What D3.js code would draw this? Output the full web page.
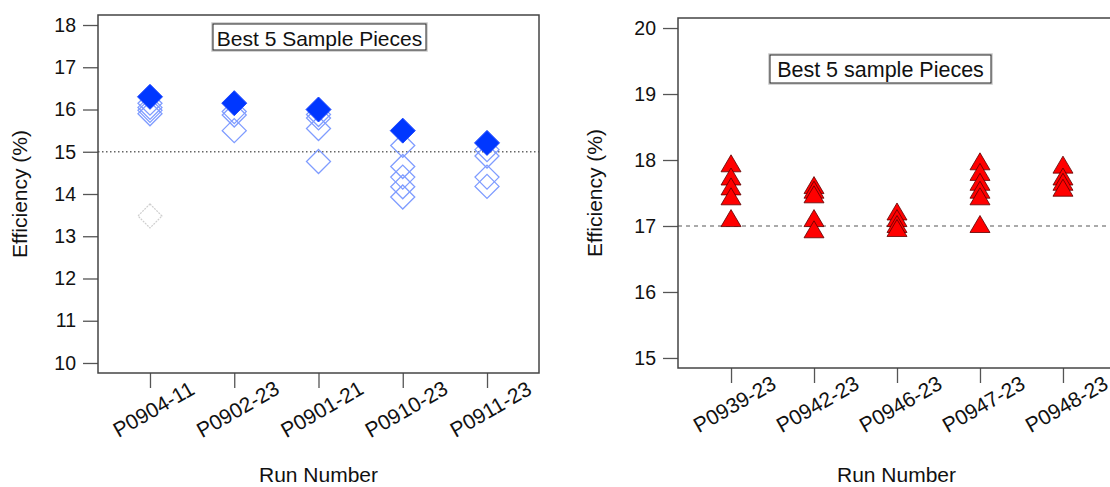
<!DOCTYPE html>
<meta charset="utf-8">
<style>
body { margin: 0; background: #fff; }
svg { display: block; font-family: "Liberation Sans", Arial, sans-serif; }
</style>
<svg width="1110" height="487"></svg>
<script src="https://d3js.org/d3.v7.min.js"></script>
<script>
// left panel data
const leftRuns = ["P0904-11", "P0902-23", "P0901-21", "P0910-23", "P0911-23"];
const leftBest = [16.3, 16.15, 16.0, 15.5, 15.21];
const leftOthers = [
	[16.15, 16.05, 15.98, 15.9],
	[15.95, 15.87, 15.5],
	[15.88, 15.8, 15.55, 14.77],
	[15.15, 14.65, 14.4, 14.17, 13.93],
	[15.05, 14.9, 14.4, 14.18]
];
const leftFaint = [13.48, null, null, null, null];
const leftTicks = [10, 11, 12, 13, 14, 15, 16, 17, 18];
const leftRef = 15;

// right panel data
const rightRuns = ["P0939-23", "P0942-23", "P0946-23", "P0947-23", "P0948-23"];
const rightValues = [
	[17.95, 17.75, 17.6, 17.45, 17.12],
	[17.62, 17.55, 17.48, 17.12, 16.95],
	[17.22, 17.12, 17.03, 16.97],
	[17.98, 17.82, 17.67, 17.55, 17.45, 17.03],
	[17.93, 17.75, 17.67, 17.58]
];
const rightTicks = [15, 16, 17, 18, 19, 20];
const rightRef = 17;

const svg = d3.select("svg");

function panel(opt) {
	const g = svg.append("g");
	const x = d3.scalePoint().domain(opt.runs).range([opt.left, opt.right]).padding(opt.pad);
	const y = d3.scaleLinear().domain(opt.ydomain).range([opt.bottom, opt.top]);

	// reference line
	g.append("line")
		.attr("x1", opt.left).attr("x2", opt.right)
		.attr("y1", y(opt.ref)).attr("y2", y(opt.ref))
		.attr("stroke", opt.refColor)
		.attr("stroke-width", opt.refWidth)
		.attr("stroke-dasharray", opt.refDash);

	const yAxis = g.append("g")
		.attr("transform", `translate(${opt.left},0)`)
		.call(d3.axisLeft(y).tickValues(opt.yticks).tickSize(15).tickPadding(7).tickFormat(d3.format("d")));
	const xAxis = g.append("g")
		.attr("transform", `translate(0,${opt.bottom})`)
		.call(d3.axisBottom(x).tickSize(15));
	[yAxis, xAxis].forEach(a => {
		a.select(".domain").remove();
		a.selectAll(".tick line").attr("stroke", "#555").attr("stroke-width", 1.3);
	});
	yAxis.selectAll(".tick text")
		.attr("font-size", 19.5).attr("fill", "#111")
		.attr("font-family", "Liberation Sans, Arial, sans-serif");
	xAxis.selectAll(".tick text")
		.attr("font-size", 21).attr("fill", "#111")
		.attr("font-family", "Liberation Sans, Arial, sans-serif")
		.attr("text-anchor", "middle")
		.attr("dy", null)
		.attr("y", null)
		.attr("dominant-baseline", "central")
		.attr("transform", "translate(3,36) rotate(-30)");

	// frame
	g.append("rect")
		.attr("x", opt.left).attr("y", opt.top)
		.attr("width", opt.right - opt.left).attr("height", opt.bottom - opt.top)
		.attr("fill", "none").attr("stroke", "#444").attr("stroke-width", 1.5);

	opt.marks(g, x, y);

	// legend box
	const lg = g.append("g");
	lg.append("rect")
		.attr("x", opt.legend.x - 1).attr("y", opt.legend.y - 1)
		.attr("width", opt.legend.w + 2).attr("height", opt.legend.h + 2)
		.attr("fill", "none").attr("stroke", "#c8c8c8").attr("stroke-width", 1.5);
	lg.append("rect")
		.attr("x", opt.legend.x).attr("y", opt.legend.y)
		.attr("width", opt.legend.w).attr("height", opt.legend.h)
		.attr("fill", "#fff").attr("stroke", "#222").attr("stroke-width", 1);
	lg.append("text")
		.attr("x", opt.legend.x + opt.legend.w / 2)
		.attr("y", opt.legend.y + opt.legend.h / 2 + 1)
		.attr("dominant-baseline", "central")
		.attr("text-anchor", "middle")
		.attr("font-size", opt.legend.size)
		.attr("fill", "#111")
		.text(opt.legend.text);

	// axis titles
	g.append("text")
		.attr("x", (opt.left + opt.right) / 2 + opt.xtitleShift)
		.attr("y", 482)
		.attr("text-anchor", "middle")
		.attr("font-size", 21)
		.attr("fill", "#111")
		.text("Run Number");
	g.append("text")
		.attr("transform", `translate(${opt.ytitleX},${(opt.top + opt.bottom) / 2 + opt.ytitleShift}) rotate(-90)`)
		.attr("text-anchor", "middle")
		.attr("dominant-baseline", "central")
		.attr("font-size", 21)
		.attr("fill", "#111")
		.text("Efficiency (%)");
}

const diamond = r => `M0,${-r}L${r},0L0,${r}L${-r},0Z`;
const triangle = (w, h) => `M0,${-h / 2}L${w / 2},${h / 2}L${-w / 2},${h / 2}Z`;

panel({
	runs: leftRuns, left: 98, right: 539, top: 15, bottom: 373, pad: 0.617,
	ydomain: [9.763, 18.237], yticks: leftTicks,
	ref: leftRef, refColor: "#666", refWidth: 1.3, refDash: "1.5,2.5",
	legend: {x: 213, y: 24, w: 213, h: 26, size: 21, text: "Best 5 Sample Pieces"},
	xtitleShift: 0, ytitleX: 19, ytitleShift: 0,
	marks: (g, x, y) => {
		const pts = [];
		leftOthers.forEach((vals, i) => vals.forEach(v => pts.push({run: leftRuns[i], v})));
		g.append("g").selectAll("path.faint")
			.data(leftRuns.map((r, i) => ({run: r, v: leftFaint[i]})).filter(d => d.v != null))
			.join("path")
			.attr("d", diamond(12))
			.attr("transform", d => `translate(${x(d.run)},${y(d.v)})`)
			.attr("fill", "none").attr("stroke", "#cfcfcf").attr("stroke-width", 1.2)
			.attr("stroke-dasharray", "2,1");
		g.append("g").selectAll("path")
			.data(pts)
			.join("path")
			.attr("d", diamond(12))
			.attr("transform", d => `translate(${x(d.run)},${y(d.v)})`)
			.attr("fill", "none").attr("stroke", "#7f9cff").attr("stroke-width", 1.3);
		g.append("g").selectAll("path")
			.data(leftRuns.map((r, i) => ({run: r, v: leftBest[i]})))
			.join("path")
			.attr("d", diamond(12.5))
			.attr("transform", d => `translate(${x(d.run)},${y(d.v)})`)
			.attr("fill", "#0037ff").attr("stroke", "#1a46ff").attr("stroke-width", 1);
	}
});

panel({
	runs: rightRuns, left: 678, right: 1116, top: 18, bottom: 368, pad: 0.639,
	ydomain: [14.848, 20.152], yticks: rightTicks,
	ref: rightRef, refColor: "#aaa", refWidth: 2, refDash: "4,4",
	legend: {x: 770, y: 55, w: 221, h: 28, size: 21.5, text: "Best 5 sample Pieces"},
	xtitleShift: -0.5, ytitleX: 594, ytitleShift: 0,
	marks: (g, x, y) => {
		const pts = [];
		rightValues.forEach((vals, i) => vals.slice().sort((a, b) => b - a)
			.forEach(v => pts.push({run: rightRuns[i], v})));
		g.append("g").selectAll("path")
			.data(pts)
			.join("path")
			.attr("d", triangle(20, 17))
			.attr("transform", d => `translate(${x(d.run)},${y(d.v)})`)
			.attr("fill", "#ff0000").attr("stroke", "#5a0000").attr("stroke-width", 0.8);
	}
});
</script>
